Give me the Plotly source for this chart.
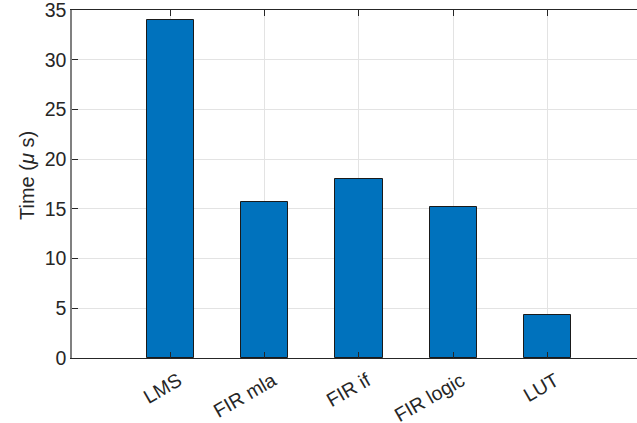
import plotly.graph_objects as go

categories = ["LMS", "FIR mla", "FIR if", "FIR logic", "LUT"]
times_us = [34.0, 15.68, 18.05, 15.2, 4.3]
positions = [1, 2, 3, 4, 5]
y_ticks = [0, 5, 10, 15, 20, 25, 30, 35]

fig = go.Figure()
fig.add_trace(go.Bar(
    x=positions, y=times_us, width=0.5,
    marker=dict(color="#0072BD", line=dict(color="#1a1a1a", width=1)),
))

font_family = "Liberation Sans, Arial, sans-serif"
fig.update_layout(
    width=637, height=423,
    margin=dict(l=72, r=0, t=10, b=65),
    plot_bgcolor="white", paper_bgcolor="white",
    showlegend=False,
    font=dict(family=font_family, size=19.5, color="#262626"),
    bargap=0,
)
fig.update_xaxes(
    range=[-0.045, 5.95], automargin=False,
    tickvals=positions, ticktext=categories, tickangle=-30,
    showgrid=True, gridcolor="#e3e3e3", gridwidth=1,
    showline=True, linecolor="#262626", linewidth=1, mirror="ticks",
    ticks="inside", ticklen=6, tickcolor="#262626",
    zeroline=False, ticklabelshift=8, ticklabelstandoff=3,
    tickfont=dict(size=19.5, color="#262626"),
)
fig.update_yaxes(
    range=[0, 35], tickvals=y_ticks, automargin=False,
    showgrid=True, gridcolor="#e3e3e3", gridwidth=1,
    showline=True, linecolor="#808080", linewidth=1.5,
    ticks="inside", ticklen=6, tickcolor="#262626",
    zeroline=False, ticklabeloverflow="allow",
    tickfont=dict(size=19.5, color="#262626"),
)
fig.add_annotation(
    text="Time (<i>μ</i> s)", xref="paper", yref="paper",
    x=-0.0796, y=0.523, textangle=-90, showarrow=False,
    xanchor="center", yanchor="middle",
    font=dict(size=20, color="#262626", family=font_family),
)

fig.write_html("out.html")
